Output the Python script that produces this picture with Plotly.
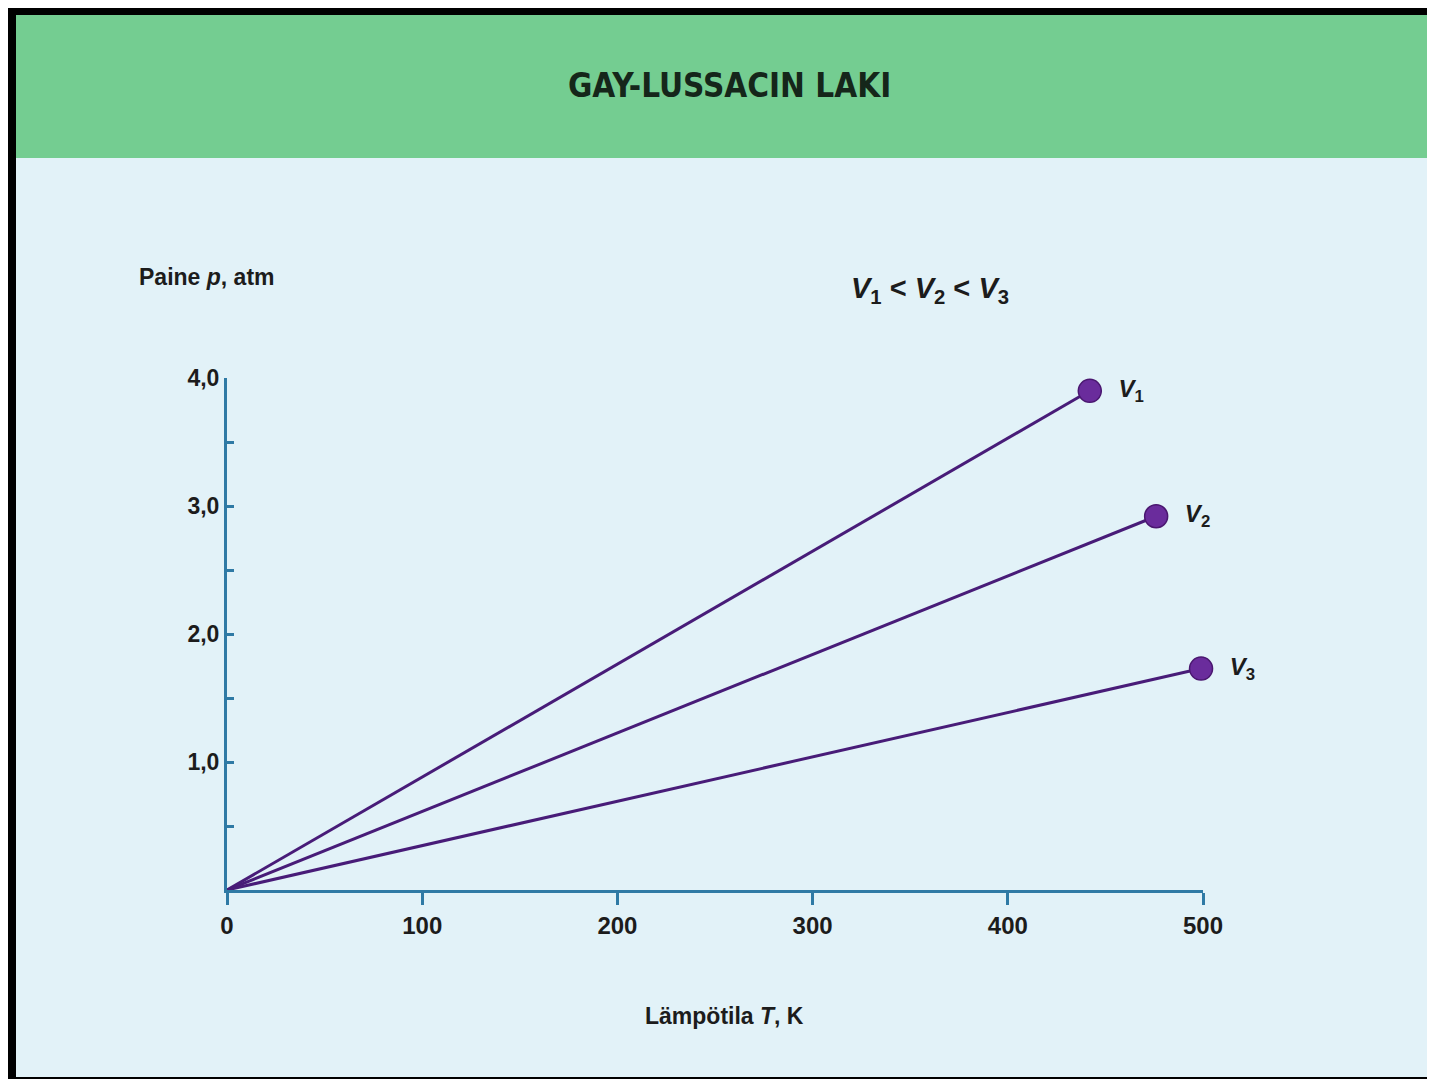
import plotly.graph_objects as go

# ---- data ----
series_names = ["V1", "V2", "V3"]
series_labels = ["&nbsp;&nbsp;<b><i>V</i><sub>1</sub></b>", "&nbsp;&nbsp;<b><i>V</i><sub>2</sub></b>",
                 "&nbsp;&nbsp;<b><i>V</i><sub>3</sub></b>"]
temp_start = [0, 0, 0]
press_start = [0, 0, 0]
temp_end = [442, 476, 499]
press_end = [3.9, 2.92, 1.73]
x_ticks = [0, 100, 200, 300, 400, 500]
x_ticklabels = ["0", "100", "200", "300", "400", "500"]
y_ticks = [1, 2, 3, 4]
y_ticklabels = ["1,0", "2,0", "3,0", "4,0"]

OFF = 8  # page body margin
W, H = 1435, 1079
L, R, T, B = 227 - OFF, 1203 - OFF, 378 - OFF, 890 - OFF  # plot area in figure pixels


def px(x):
    # x given in page pixels
    return (x - OFF - L) / (R - L)


def py(y):
    return (B - (y - OFF)) / (B - T)


LINE = "#481c78"
MFILL = "#6a2c9c"
AXIS = "#2f7aa5"
FONT = "Liberation Sans, Arial, sans-serif"
TXT = "#1c1c1c"

fig = go.Figure()
for name, lab, x0, y0, x1, y1 in zip(series_names, series_labels, temp_start, press_start, temp_end, press_end):
    fig.add_trace(go.Scatter(
        x=[x0, x1], y=[y0, y1], name=name,
        mode="lines+markers+text",
        line=dict(color=LINE, width=3),
        marker=dict(size=[0, 23], color=MFILL, line=dict(color="#4a1770", width=[0, 1.5]), opacity=1),
        text=["", lab], textposition="middle right",
        textfont=dict(family=FONT, size=24, color=TXT),
        cliponaxis=False, showlegend=False, hoverinfo="skip",
    ))

bg_shapes = [
    dict(type="rect", xref="paper", yref="paper", x0=px(0), x1=px(W + 20), y0=py(0), y1=py(H + 20),
         fillcolor="#000000", line=dict(width=0), layer="below"),
    dict(type="rect", xref="paper", yref="paper", x0=px(16), x1=px(W + 20), y0=py(15), y1=py(1077),
         fillcolor="#e2f2f8", line=dict(width=0), layer="below"),
    dict(type="rect", xref="paper", yref="paper", x0=px(16), x1=px(W + 20), y0=py(15), y1=py(158),
         fillcolor="#74cd91", line=dict(width=0), layer="below"),
]

annotations = [
    dict(text="GAY-LUSSACIN LAKI", x=px(729), y=py(85), xref="paper", yref="paper",
         showarrow=False, xanchor="center", yanchor="middle",
         font=dict(family="DejaVu Sans Condensed, Liberation Sans Narrow, Arial Narrow, sans-serif",
                   size=33, color="#15261a", weight="bold")),
    dict(text="<b>Paine <i>p</i>, atm</b>", x=px(137), y=py(277), xref="paper", yref="paper",
         showarrow=False, xanchor="left", yanchor="middle",
         font=dict(family=FONT, size=23, color=TXT)),
    dict(text="<b>Lämpötila <i>T</i>, K</b>", x=px(724), y=py(1016), xref="paper", yref="paper",
         showarrow=False, xanchor="center", yanchor="middle",
         font=dict(family=FONT, size=23, color=TXT)),
    dict(text="<b><i>V</i><sub>1</sub> &lt; <i>V</i><sub>2</sub> &lt; <i>V</i><sub>3</sub></b>",
         x=px(930), y=py(290), xref="paper", yref="paper",
         showarrow=False, xanchor="center", yanchor="middle",
         font=dict(family=FONT, size=29, color=TXT)),
]

fig.update_layout(
    width=W, height=H,
    margin=dict(l=L, r=W - R, t=T, b=H - B, pad=0),
    paper_bgcolor="#ffffff",
    plot_bgcolor="rgba(0,0,0,0)",
    shapes=bg_shapes,
    annotations=annotations,
    xaxis=dict(range=[0, 500], showgrid=False, zeroline=False, showline=True, linecolor=AXIS, linewidth=3,
               tickmode="array", tickvals=x_ticks, ticktext=x_ticklabels,
               ticks="outside", ticklen=12, tickwidth=3, tickcolor=AXIS,
               tickfont=dict(family=FONT, size=24, color=TXT, weight="bold")),
    yaxis=dict(range=[0, 4], showgrid=False, zeroline=False, showline=True, linecolor=AXIS, linewidth=3,
               tickmode="array", tickvals=y_ticks, ticktext=y_ticklabels,
               ticks="inside", ticklen=7, tickwidth=3, tickcolor=AXIS,
               minor=dict(tickvals=[0.5, 1.5, 2.5, 3.5], ticks="inside", ticklen=7, tickwidth=3, tickcolor=AXIS),
               tickfont=dict(family=FONT, size=23, color=TXT, weight="bold")),
)

fig.write_html("out.html")
